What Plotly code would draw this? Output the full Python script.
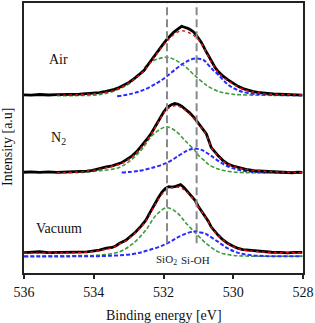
import plotly.graph_objects as go

# ---------------- data (binding energy [eV], intensity [a.u.], offset-stacked) ----------------
air_E = [536.00, 535.80, 535.55, 535.30, 535.06, 534.85, 534.70, 534.41, 534.20, 534.04, 533.84, 533.70, 533.55,
         533.41, 533.27, 533.13, 532.99, 532.85, 532.70, 532.56, 532.45, 532.34, 532.24, 532.14, 532.02, 531.91,
         531.80, 531.71, 531.62, 531.57, 531.48, 531.42, 531.37, 531.30, 531.23, 531.16, 531.09, 531.00, 530.91,
         530.80, 530.72, 530.63, 530.53, 530.43, 530.30, 530.15, 530.00, 529.86, 529.72, 529.58, 529.45, 529.30,
         529.15, 529.01, 528.85, 528.64, 528.50, 528.30, 528.15, 528.02]
air_I = [179.5, 179.2, 179.8, 179.3, 179.6, 179.4, 179.9, 180.3, 180.6, 181.3, 181.8, 182.6, 183.6,
         185.0, 186.8, 189.0, 192.0, 195.5, 199.8, 204.0, 209.5, 215.0, 219.5, 224.5, 230.0, 235.0,
         239.5, 242.5, 245.0, 246.3, 248.5, 247.8, 247.5, 246.5, 245.0, 243.5, 241.0, 236.5, 232.0,
         224.5, 219.0, 213.0, 207.5, 203.0, 198.5, 194.5, 191.0, 188.0, 185.8, 184.0, 183.0, 182.0,
         181.2, 181.0, 180.4, 180.2, 179.6, 179.5, 179.8, 179.2]
air_fit_E = [535.06, 534.41, 533.84, 533.41, 533.13, 532.85, 532.56, 532.34, 532.14, 531.91, 531.71, 531.48,
             531.23, 531.09, 530.91, 530.63, 530.43, 530.15, 529.86, 529.58, 529.30, 529.01, 528.30, 528.02]
air_fit_I = [179.0, 179.8, 181.0, 184.0, 188.5, 195.0, 203.5, 213.5, 223.5, 233.0, 240.0, 244.0,
             241.5, 238.0, 231.0, 212.5, 202.0, 193.5, 187.5, 183.5, 181.5, 180.3, 179.5, 179.3]
air_sio2_E = [535.06, 534.41, 533.84, 533.27, 532.90, 532.62, 532.42, 532.19, 531.91, 531.67, 531.38, 531.09,
              530.80, 530.72, 530.43, 530.06, 529.58, 529.01, 528.02]
air_sio2_I = [178.5, 178.8, 179.7, 185.3, 193.0, 203.0, 211.3, 215.3, 217.3, 214.7, 208.0, 198.5,
              190.0, 188.0, 183.0, 180.3, 179.3, 179.0, 179.0]
air_sioh_E = [533.33, 532.90, 532.51, 532.19, 531.91, 531.62, 531.34, 531.09, 530.86, 530.80, 530.63, 530.43,
              530.15, 529.86, 529.58, 529.10, 528.02]
air_sioh_I = [178.0, 180.7, 185.3, 191.3, 198.0, 206.3, 213.0, 216.0, 214.7, 213.0, 206.3, 199.7,
              189.7, 184.0, 181.3, 179.7, 179.0]

n2_E = [536.00, 535.80, 535.55, 535.30, 535.06, 534.85, 534.70, 534.41, 534.20, 534.04, 533.84, 533.64, 533.47,
        533.33, 533.19, 533.05, 532.90, 532.76, 532.62, 532.48, 532.34, 532.22, 532.10, 532.00, 531.91, 531.80,
        531.68, 531.58, 531.48, 531.37, 531.25, 531.12, 531.00, 530.88, 530.77, 530.63, 530.53, 530.43, 530.30,
        530.15, 530.00, 529.86, 529.72, 529.58, 529.40, 529.25, 529.10, 528.90, 528.70, 528.53, 528.30, 528.15,
        528.02]
n2_I = [101.5, 101.9, 101.4, 101.8, 101.3, 101.7, 101.6, 102.0, 102.6, 103.5, 105.5, 107.0, 108.0,
        109.3, 111.3, 114.5, 118.0, 122.5, 128.0, 134.5, 141.3, 149.0, 156.3, 162.0, 166.3, 169.0,
        170.7, 170.0, 168.0, 164.8, 161.3, 156.5, 151.0, 145.5, 140.0, 126.3, 121.8, 118.0, 113.5,
        109.7, 107.8, 106.3, 105.0, 104.0, 103.2, 102.8, 102.7, 102.0, 101.6, 101.3, 101.0, 101.6,
        101.3]
n2_fit_E = [535.06, 534.41, 533.84, 533.47, 533.19, 532.90, 532.62, 532.34, 532.10, 531.91, 531.68, 531.48,
            531.25, 531.00, 530.77, 530.63, 530.43, 530.15, 529.86, 529.58, 529.10, 528.53, 528.02]
n2_fit_I = [101.0, 101.8, 104.5, 107.5, 110.5, 117.0, 127.0, 140.5, 155.0, 164.5, 168.5, 166.5,
            160.0, 150.0, 139.0, 126.5, 117.5, 109.5, 106.0, 104.0, 102.5, 101.5, 101.3]
n2_sio2_E = [535.06, 534.41, 533.84, 533.27, 532.90, 532.62, 532.34, 532.10, 531.91, 531.65, 531.37, 531.09,
             531.00, 530.80, 530.72, 530.43, 530.06, 529.58, 528.02]
n2_sio2_I = [101.0, 101.3, 103.0, 106.3, 114.7, 124.7, 138.0, 144.7, 147.3, 143.0, 133.0, 123.0,
             118.7, 112.5, 109.7, 104.7, 102.0, 101.0, 101.0]
n2_sioh_E = [533.20, 532.70, 532.22, 531.85, 531.57, 531.34, 531.14, 530.91, 530.80, 530.63, 530.43, 530.15,
             529.86, 529.58, 529.10, 528.02]
n2_sioh_I = [101.3, 103.0, 107.0, 112.0, 118.0, 123.0, 125.3, 124.0, 122.0, 118.0, 113.0, 107.3,
             104.0, 102.3, 101.3, 101.0]

vac_E = [536.00, 535.80, 535.55, 535.30, 535.06, 534.85, 534.70, 534.41, 534.20, 534.04, 533.84, 533.64, 533.47,
         533.36, 533.27, 533.08, 532.95, 532.80, 532.65, 532.51, 532.40, 532.28, 532.16, 532.05, 531.95, 531.85,
         531.75, 531.65, 531.58, 531.51, 531.42, 531.33, 531.20, 531.09, 531.00, 530.86, 530.72, 530.63, 530.53,
         530.43, 530.30, 530.15, 530.00, 529.86, 529.72, 529.58, 529.40, 529.25, 529.10, 528.90, 528.64, 528.45,
         528.25, 528.02]
vac_I = [20.5, 20.8, 21.4, 20.6, 20.8, 20.4, 20.9, 20.8, 21.3, 22.0, 23.0, 25.0, 25.7,
         27.5, 29.7, 33.0, 36.5, 41.3, 47.0, 53.0, 60.0, 68.0, 75.0, 81.3, 85.0, 87.0,
         86.5, 87.3, 88.2, 89.0, 86.5, 83.0, 78.0, 73.0, 67.0, 60.0, 52.5, 46.3, 42.0,
         38.0, 33.5, 29.7, 27.0, 24.7, 23.5, 23.0, 22.0, 21.5, 21.3, 20.9, 20.7, 20.3,
         20.8, 20.7]
vac_fit_E = [536.00, 535.06, 534.41, 533.84, 533.47, 533.27, 533.08, 532.80, 532.51, 532.28, 532.05, 531.85,
             531.65, 531.51, 531.33, 531.09, 531.00, 530.86, 530.72, 530.63, 530.43, 530.15, 529.86, 529.58,
             529.10, 528.64, 528.02]
vac_fit_I = [20.0, 20.2, 20.5, 22.5, 25.5, 29.0, 32.5, 40.5, 52.0, 66.0, 79.0, 85.0,
             86.5, 86.0, 81.5, 72.0, 66.5, 59.5, 52.0, 46.0, 37.5, 29.5, 24.5, 22.5,
             21.0, 20.5, 20.5]
vac_sio2_E = [536.00, 535.06, 534.41, 533.84, 533.27, 532.90, 532.51, 532.22, 531.91, 531.63, 531.34, 531.02,
              530.75, 530.43, 530.06, 529.58, 528.02]
vac_sio2_I = [17.0, 17.3, 17.5, 18.0, 21.3, 29.0, 43.0, 58.0, 65.7, 61.3, 49.7, 38.0,
              29.0, 21.3, 18.0, 17.0, 17.0]
vac_sioh_E = [536.00, 534.41, 533.84, 532.90, 532.42, 531.94, 531.57, 531.28, 531.09, 531.00, 530.80, 530.72,
              530.43, 530.15, 529.86, 529.49, 529.01, 528.02]
vac_sioh_I = [16.5, 16.8, 17.0, 19.0, 23.0, 29.0, 36.3, 40.7, 42.0, 41.3, 39.7, 38.0,
              31.3, 24.7, 20.3, 18.0, 17.0, 17.0]

panel_names = ["Air", "N<sub>2</sub>", "Vacuum"]
panel_label_I = [215, 136, 45]
ref_lines_E = [531.9, 531.05]
ref_labels = ["SiO<sub>2</sub>", "Si-OH"]
x_ticks = [536, 534, 532, 530, 528]

# ---------------- figure ----------------
SERIF = "Liberation Serif"
fig = go.Figure()

panels = [
    (air_E, air_I, air_fit_E, air_fit_I, air_sio2_E, air_sio2_I, air_sioh_E, air_sioh_I),
    (n2_E, n2_I, n2_fit_E, n2_fit_I, n2_sio2_E, n2_sio2_I, n2_sioh_E, n2_sioh_I),
    (vac_E, vac_I, vac_fit_E, vac_fit_I, vac_sio2_E, vac_sio2_I, vac_sioh_E, vac_sioh_I),
]

for (dE, dI, fE, fI, gE, gI, bE, bI) in panels:
    fig.add_trace(go.Scatter(x=gE, y=gI, mode="lines", line=dict(color="#3f9b3f", width=1.6, dash="4px,2px", shape="spline"),
                             showlegend=False, hoverinfo="skip"))
    fig.add_trace(go.Scatter(x=bE, y=bI, mode="lines", line=dict(color="#2a2aff", width=2, dash="4px,2px", shape="spline"),
                             showlegend=False, hoverinfo="skip"))
    fig.add_trace(go.Scatter(x=dE, y=dI, mode="lines", line=dict(color="black", width=2.8),
                             showlegend=False, hoverinfo="skip"))
    fig.add_trace(go.Scatter(x=fE, y=fI, mode="lines", line=dict(color="#e01010", width=1.4, dash="dot", shape="spline"),
                             showlegend=False, hoverinfo="skip"))

for e in ref_lines_E:
    fig.add_shape(type="line", x0=e, x1=e, y0=30, y1=272, xref="x", yref="y",
                  line=dict(color="#8a8a8a", width=2, dash="8px,4px"), layer="above")

for lab, e in zip(ref_labels, [531.9, 531.08]):
    fig.add_annotation(x=e, y=13, text=lab, showarrow=False, xanchor="center", yanchor="middle",
                       font=dict(family=SERIF, size=11, color="#222"))

for name, yl in zip(panel_names, panel_label_I):
    fig.add_annotation(x=535.0, y=yl, text=name, showarrow=False, xanchor="center", yanchor="middle",
                       font=dict(family=SERIF, size=14, color="#111"))

fig.add_annotation(xref="paper", yref="paper", x=0.5, y=-0.158, text="Binding energy [eV]", showarrow=False,
                   xanchor="center", yanchor="middle", font=dict(family=SERIF, size=14, color="#111"))
fig.add_annotation(xref="paper", yref="paper", x=-0.057, y=0.467, text="Intensity [a.u]", showarrow=False,
                   textangle=-90, xanchor="center", yanchor="middle", font=dict(family=SERIF, size=14, color="#111"))

fig.update_xaxes(range=[536, 528], tickvals=x_ticks, ticktext=[str(t) for t in x_ticks],
                 ticks="outside", ticklen=4, tickwidth=1.5, tickcolor="#222",
                 showline=True, linecolor="#222", linewidth=2, mirror=True, showgrid=False, zeroline=False,
                 tickfont=dict(family=SERIF, size=14, color="#111"), ticklabelstandoff=1,
                 ticklabeloverflow="allow")
fig.update_yaxes(range=[0, 272], showticklabels=False, ticks="", showline=True, linecolor="#222",
                 linewidth=2, mirror=True, showgrid=False, zeroline=False)

fig.update_layout(width=315, height=323, margin=dict(l=24, r=9, t=1, b=50),
                  paper_bgcolor="white", plot_bgcolor="white", showlegend=False)

fig.write_html("out.html", config={"displayModeBar": False},
               post_script="document.body.style.margin='0';document.body.style.padding='0';")
